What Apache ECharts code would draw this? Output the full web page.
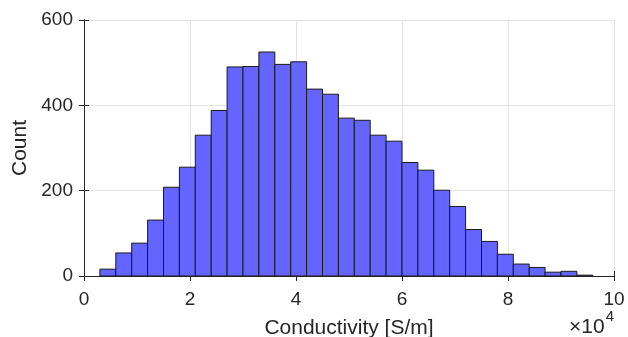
<!DOCTYPE html>
<html>
<head>
<meta charset="utf-8">
<script src="https://cdn.jsdelivr.net/npm/echarts@6/dist/echarts.min.js"></script>
<style>html,body{margin:0;padding:0;background:#fff;}#c{width:628px;height:337px;}</style>
</head>
<body>
<div id="c"></div>
<script>
// Histogram data (conductivity in S/m)
const binStart = 3000;
const binWidth = 3000;
const counts = [16, 54, 77, 131, 208, 255, 330, 388, 490, 491, 525, 496, 502, 438, 426,
  370, 365, 330, 316, 266, 248, 201, 163, 109, 81, 51, 28, 20, 9, 11, 2];
const xTicks = [0, 2, 4, 6, 8, 10];   // ×10^4
const yTicks = [0, 200, 400, 600];

const bins = counts.map((c, i) => [binStart + i * binWidth, binStart + (i + 1) * binWidth, c]);

const FONT = 'Liberation Sans';
const TXT = '#262626';
const chart = echarts.init(document.getElementById('c'), null, {renderer: 'canvas'});

const axisCommon = {
  axisLine: {show: true, lineStyle: {color: TXT, width: 1}},
  axisTick: {show: true, inside: true, length: 5, lineStyle: {color: TXT}},
};

chart.setOption({
  animation: false,
  backgroundColor: '#fff',
  grid: {left: 84, right: 14, top: 20, bottom: 61, containLabel: false, outerBoundsMode: 'none'},
  xAxis: [{
    type: 'value', min: 0, max: 100000, interval: 20000,
    ...axisCommon,
    axisLabel: {color: TXT, fontFamily: FONT, fontSize: 19, margin: 14,
      formatter: v => String(v / 10000)},
    splitLine: {show: true, lineStyle: {color: '#e3e3e3', width: 1}},
    name: 'Conductivity [S/m]', nameLocation: 'middle', nameGap: 42,
    nameTextStyle: {color: TXT, fontFamily: FONT, fontSize: 21}
  }, {
    type: 'value', position: 'top', min: 0, max: 100000, interval: 20000,
    ...axisCommon, axisLabel: {show: false}, splitLine: {show: false}
  }],
  yAxis: [{
    type: 'value', min: 0, max: 600, interval: 200,
    ...axisCommon,
    axisLabel: {color: TXT, fontFamily: FONT, fontSize: 19, margin: 11},
    splitLine: {show: true, lineStyle: {color: '#e3e3e3', width: 1}},
    name: 'Count', nameLocation: 'middle', nameGap: 52,
    nameTextStyle: {color: TXT, fontFamily: FONT, fontSize: 21}
  }, {
    type: 'value', position: 'right', min: 0, max: 600, interval: 200,
    ...axisCommon, axisLabel: {show: false}, splitLine: {show: false}
  }],
  graphic: [{
    type: 'text', right: 14, bottom: -1,
    style: {
      text: '{a|×10}{b|4}', fontFamily: FONT,
      rich: {
        a: {fontSize: 21, fontFamily: FONT, fill: TXT, verticalAlign: 'bottom'},
        b: {fontSize: 15, fontFamily: FONT, fill: TXT, verticalAlign: 'top', padding: [0, 0, 14, 1]}
      }
    }
  }],
  series: [{
    type: 'custom',
    xAxisIndex: 0, yAxisIndex: 0,
    data: bins,
    encode: {x: [0, 1], y: 2},
    renderItem: function (params, api) {
      const p0 = api.coord([api.value(0), api.value(2)]);
      const p1 = api.coord([api.value(1), 0]);
      return {
        type: 'rect',
        shape: {x: p0[0], y: p0[1], width: p1[0] - p0[0], height: p1[1] - p0[1]},
        style: {fill: '#6464ff', stroke: '#1a1a1a', lineWidth: 1}
      };
    }
  }]
});
</script>
</body>
</html>
